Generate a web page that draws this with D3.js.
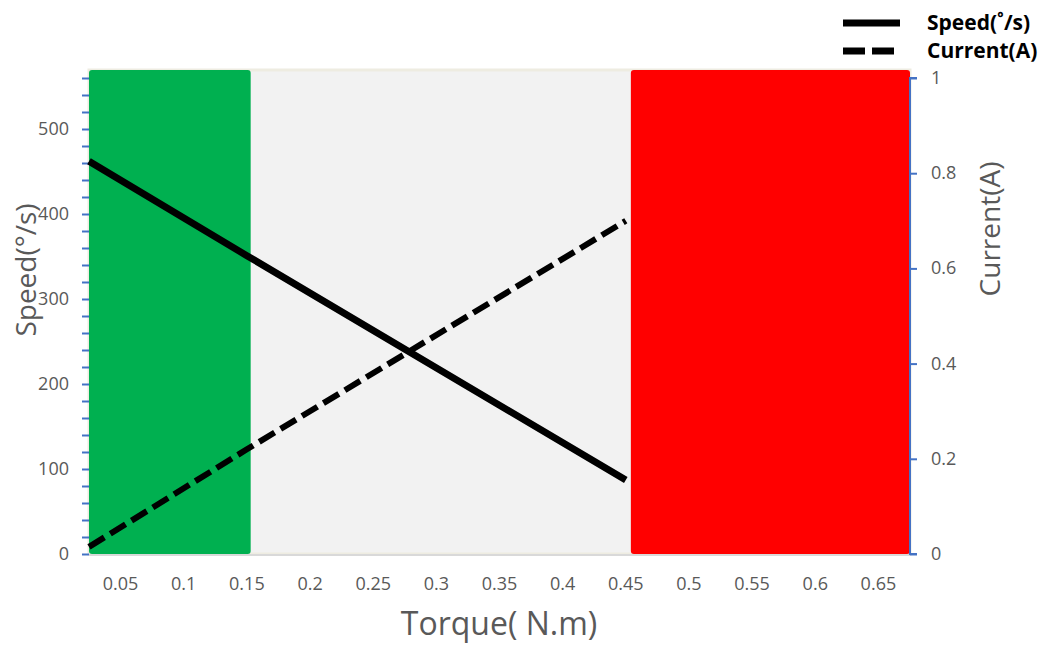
<!DOCTYPE html>
<html>
<head>
<meta charset="utf-8">
<script src="https://cdn.jsdelivr.net/npm/d3@7"></script>
<style>
  body { margin: 0; background: #fff; }
  text { font-family: "Open Sans", "Noto Sans", sans-serif; }
</style>
</head>
<body>
<svg id="chart" width="1048" height="646"></svg>
<script>
// torque values (N.m)
const torqueTicks = [0.05, 0.1, 0.15, 0.2, 0.25, 0.3, 0.35, 0.4, 0.45, 0.5, 0.55, 0.6, 0.65];
const speedTicks = [0, 100, 200, 300, 400, 500];
const currentTicks = [0, 0.2, 0.4, 0.6, 0.8, 1];

const speedTorque = [0.025, 0.15, 0.45];
const speedValues = [462, 351, 87];
const currentTorque = [0.025, 0.15, 0.45];
const currentValues = [0.015, 0.22, 0.70];

// coloured zones along torque axis
const zoneFrom = [0.025, 0.454];
const zoneTo = [0.153, 0.675];
const zoneColor = ["#00B050", "#FF0000"];

const svg = d3.select("svg#chart");
const plotLeft = 89, plotRight = 910, plotTop = 78, plotBottom = 554, bgTop = 70;

const x = d3.scaleLinear().domain([0.025, 0.675]).range([plotLeft, plotRight]);
const ySpeed = d3.scaleLinear().domain([0, 560]).range([plotBottom, plotTop]);
const yCurrent = d3.scaleLinear().domain([0, 1]).range([plotBottom, plotTop]);

// plot background
svg.append("rect")
  .attr("x", plotLeft).attr("y", bgTop)
  .attr("width", plotRight - plotLeft).attr("height", plotBottom - bgTop)
  .attr("fill", "#F2F2F2")
  .attr("stroke", "#EEECE1").attr("stroke-width", 3);

svg.selectAll("rect.zone")
  .data(zoneFrom)
  .join("rect")
  .attr("class", "zone")
  .attr("x", (d) => x(d))
  .attr("y", bgTop)
  .attr("width", (d, i) => x(zoneTo[i]) - x(d))
  .attr("height", plotBottom - bgTop)
  .attr("rx", 3)
  .attr("fill", (d, i) => zoneColor[i]);

// bottom axis line
svg.append("line")
  .attr("x1", plotLeft).attr("x2", plotRight)
  .attr("y1", plotBottom + 1).attr("y2", plotBottom + 1)
  .attr("stroke", "#D9D9D9").attr("stroke-width", 2);

// left axis with minor ticks every 20
const leftAxis = svg.append("g")
  .attr("transform", `translate(${plotLeft},0)`)
  .call(d3.axisLeft(ySpeed).tickValues(d3.range(0, 561, 20)).tickSize(7).tickFormat(""));
leftAxis.select(".domain").remove();
leftAxis.selectAll(".tick line").attr("stroke", "#4472C4").attr("stroke-width", 2);

svg.selectAll("text.ylab")
  .data(speedTicks)
  .join("text")
  .attr("class", "ylab")
  .attr("x", 69)
  .attr("y", (d) => ySpeed(d) + 6)
  .attr("text-anchor", "end")
  .attr("font-size", 18)
  .attr("fill", "#595959")
  .text((d) => d);

// right axis
const rightAxis = svg.append("g")
  .attr("transform", `translate(${plotRight},0)`)
  .call(d3.axisRight(yCurrent).tickValues(currentTicks).tickSize(7).tickFormat(""));
rightAxis.select(".domain").attr("stroke", "#4472C4").attr("stroke-width", 2)
  .attr("d", `M7,${plotTop}H0V${plotBottom}H7`);
rightAxis.selectAll(".tick line").attr("stroke", "#4472C4").attr("stroke-width", 2);

svg.selectAll("text.rlab")
  .data(currentTicks)
  .join("text")
  .attr("class", "rlab")
  .attr("x", 931)
  .attr("y", (d) => yCurrent(d) + 6)
  .attr("font-size", 18)
  .attr("fill", "#595959")
  .text((d) => d);

// x tick labels
svg.selectAll("text.xlab")
  .data(torqueTicks)
  .join("text")
  .attr("class", "xlab")
  .attr("x", (d) => x(d))
  .attr("y", 590)
  .attr("text-anchor", "middle")
  .attr("font-size", 18)
  .attr("fill", "#595959")
  .text((d) => d);

// lines
const speedLine = d3.line()
  .x((d, i) => x(speedTorque[i]))
  .y((d) => ySpeed(d));
svg.append("path")
  .datum(speedValues)
  .attr("d", speedLine)
  .attr("fill", "none")
  .attr("stroke", "#000")
  .attr("stroke-width", 7);

const currentLine = d3.line()
  .x((d, i) => x(currentTorque[i]))
  .y((d) => yCurrent(d));
svg.append("path")
  .datum(currentValues)
  .attr("d", currentLine)
  .attr("fill", "none")
  .attr("stroke", "#000")
  .attr("stroke-width", 6)
  .attr("stroke-dasharray", "18,7");

// axis titles
svg.append("text")
  .attr("transform", "translate(36,270) rotate(-90)")
  .attr("text-anchor", "middle")
  .attr("font-size", 28)
  .attr("fill", "#595959")
  .text("Speed(°/s)");

svg.append("text")
  .attr("transform", "translate(1000,229) rotate(-90)")
  .attr("text-anchor", "middle")
  .attr("font-size", 28)
  .attr("fill", "#595959")
  .text("Current(A)");

svg.append("text")
  .attr("x", 499).attr("y", 635)
  .attr("text-anchor", "middle")
  .attr("font-size", 32)
  .attr("fill", "#595959")
  .text("Torque( N.m)");

// legend
const legendNames = ["Speed(˚/s)", "Current(A)"];
const legendDash = [null, "22,7"];
legendNames.forEach((name, i) => {
  const ly = 23 + i * 28;
  svg.append("line")
    .attr("x1", 843).attr("x2", 900)
    .attr("y1", ly).attr("y2", ly)
    .attr("stroke", "#000").attr("stroke-width", 7)
    .attr("stroke-dasharray", legendDash[i]);
  svg.append("text")
    .attr("x", 927).attr("y", ly + 7)
    .attr("font-size", 21)
    .attr("font-weight", "bold")
    .attr("fill", "#000")
    .text(name);
});
</script>
</body>
</html>
